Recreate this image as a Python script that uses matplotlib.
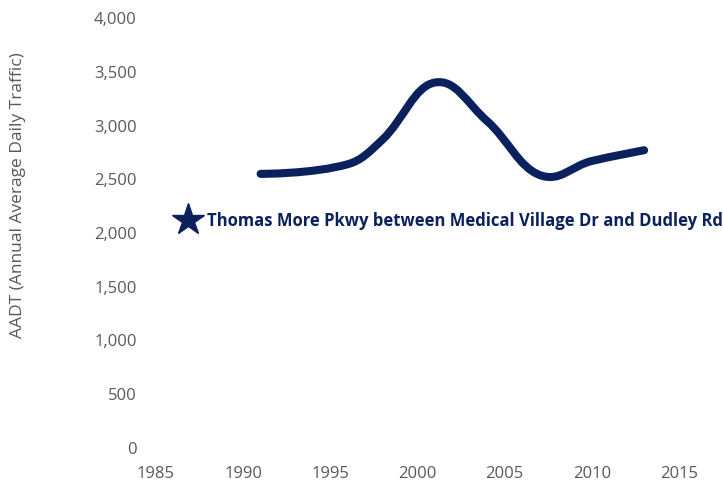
import numpy as np
import matplotlib.pyplot as plt
from matplotlib.path import Path
from matplotlib.patches import PathPatch
from matplotlib.lines import Line2D

# Data
years = [1991, 1996, 1998, 2001, 2004, 2007, 2010, 2013]
aadt = [2550, 2640, 2870, 3400, 3040, 2540, 2670, 2770]
series_name = "Thomas More Pkwy between Medical Village Dr and Dudley Rd"
x_ticks = [1985, 1990, 1995, 2000, 2005, 2010, 2015]
y_ticks = [0, 500, 1000, 1500, 2000, 2500, 3000, 3500, 4000]

NAVY = "#0b215e"
GREY = "#595959"


def spline_path(xs, ys, smoothing=1.5):
    # smooth cubic bezier through the points (only control points computed)
    denom = smoothing + 1
    n = len(xs)
    left, right = [], []
    for i in range(n):
        x, y = xs[i], ys[i]
        if i == 0 or i == n - 1:
            left.append((x, y))
            right.append((x, y))
            continue
        lx = (smoothing * x + xs[i - 1]) / denom
        ly = (smoothing * y + ys[i - 1]) / denom
        rx = (smoothing * x + xs[i + 1]) / denom
        ry = (smoothing * y + ys[i + 1]) / denom
        if rx != lx:
            corr = (ry - ly) * (rx - x) / (rx - lx) + y - ry
            ly += corr
            ry += corr
        left.append((lx, ly))
        right.append((rx, ry))
    verts = [(xs[0], ys[0])]
    codes = [Path.MOVETO]
    for i in range(1, n):
        verts += [right[i - 1], left[i], (xs[i], ys[i])]
        codes += [Path.CURVE4] * 3
    return Path(verts, codes)


plt.rcParams['font.family'] = ['Open Sans', 'DejaVu Sans']

fig = plt.figure(figsize=(7.23, 4.84), dpi=100)
ax = fig.add_axes([156 / 723, 1 - 448 / 484, (679 - 156) / 723, (448 - 18) / 484])

patch = PathPatch(spline_path(years, aadt), facecolor='none', edgecolor=NAVY,
                  lw=5.8, capstyle='round', joinstyle='round')
ax.add_patch(patch)

ax.set_xlim(1985, 2015)
ax.set_ylim(0, 4000)
ax.set_xticks(x_ticks)
ax.set_yticks(y_ticks)
ax.set_yticklabels([f"{v:,}" for v in y_ticks])
ax.tick_params(length=0, labelsize=12, labelcolor=GREY)
ax.tick_params(axis='y', pad=14)
ax.tick_params(axis='x', pad=13)
for s in ax.spines.values():
    s.set_visible(False)

fig.text(18 / 723, 1 - 195 / 484, "AADT (Annual Average Daily Traffic)",
         rotation=90, ha='center', va='center', fontsize=12.5, color=GREY)

handle = Line2D([], [], linestyle='none', marker='*', markersize=24,
                color=NAVY, markeredgecolor=NAVY)
ax.legend([handle], [series_name], loc='center left',
          bbox_to_anchor=(0.05, 1 - (221 - 18) / 430), frameon=False,
          handlelength=0.7, handletextpad=0.8, borderpad=0, borderaxespad=0,
          prop={'weight': 'bold', 'size': 12}, labelcolor=NAVY)

fig.savefig("out.png", dpi=100)
